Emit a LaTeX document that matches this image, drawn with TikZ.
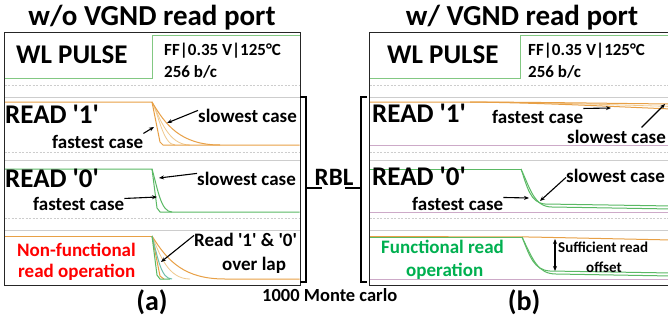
\documentclass[tikz,border=0pt]{standalone}
\usepackage{fontspec}
\setmainfont{Carlito}
\usetikzlibrary{arrows.meta}
\newcommand\sqq{\textquotesingle}
\definecolor{wlgreen}{RGB}{130,200,130}
\definecolor{rdorange}{RGB}{232,160,70}
\definecolor{rdorangel}{RGB}{240,200,140}
\definecolor{rdgreen}{RGB}{90,185,100}
\definecolor{rdteal}{RGB}{110,190,170}
\definecolor{gridgray}{RGB}{205,205,205}
\definecolor{lowpurple}{RGB}{205,170,200}
\definecolor{redtxt}{RGB}{255,0,0}
\definecolor{greentxt}{RGB}{0,176,80}
\begin{document}
\begin{tikzpicture}[x=1pt,y=-1pt,
  txt/.style={inner sep=0pt,anchor=base west,font=\bfseries\fontsize{19}{20}\selectfont},
  bigtxt/.style={inner sep=0pt,anchor=base west,font=\bfseries\fontsize{27}{28}\selectfont},
  ttl/.style={inner sep=0pt,anchor=base,font=\bfseries\fontsize{29}{30}\selectfont},
  cond/.style={inner sep=0pt,anchor=base west,font=\bfseries\fontsize{17}{18}\selectfont},
  frame/.style={draw=black!85,line width=0.9pt},
  dashgrid/.style={draw=gridgray,line width=0.8pt,dash pattern=on 2pt off 1.5pt},
  solidgrid/.style={draw=gridgray,line width=0.8pt},
  lowline/.style={draw=lowpurple,line width=0.8pt},
  wl/.style={draw=wlgreen,line width=1pt},
  orc/.style={draw=rdorange,line width=1pt},
  orl/.style={draw=rdorangel,line width=0.8pt},
  grc/.style={draw=rdgreen,line width=1pt},
  arr/.style={draw=black,line width=1.1pt,-{Stealth[length=5pt,width=4pt]}},
  darr/.style={draw=black,line width=1.1pt,{Stealth[length=5pt,width=4pt]}-{Stealth[length=5pt,width=4pt]}},
  brk/.style={draw=black,line width=1.8pt}
]
\useasboundingbox (0,0) rectangle (668,324);
\fill[white] (0,0) rectangle (668,324);

% ================= Panel (a) =================
\foreach \y in {85,152,218} \draw[dashgrid] (4.5,\y) -- (299.5,\y);
\foreach \y in {97,160,230} \draw[solidgrid] (4.5,\y) -- (299.5,\y);
\draw[wl] (4.5,78) -- (152,78) -- (152,35) -- (299.5,35);
% READ 1
\draw[orl] (152,102) .. controls (160,118) and (168,145) .. (190,145);
\draw[orl] (152,102) .. controls (158,112) and (163,145) .. (175,145);
\draw[orc] (4.5,102) -- (152,102) -- (160,142) -- (163,145) -- (299.5,145);
\draw[orc] (152,102) .. controls (165,124) and (180,145) .. (220,145);
% READ 0
\draw[grc] (4.5,169) -- (152,169) -- (157,208) -- (160,212) -- (299.5,212);
\draw[grc] (152,169) .. controls (158,190) and (161,212) .. (172,212);
% overlap
\draw[orl] (152,236) .. controls (160,255) and (168,279) .. (190,279);
\draw[orc] (4.5,236) -- (152,236);
\draw[orc] (152,236) .. controls (168,262) and (185,279) .. (225,279) -- (299.5,279);
\draw[orc] (152,236) -- (160,276) -- (164,279);
\draw[draw=rdteal,line width=1pt] (152,236) .. controls (158,258) and (161,279) .. (172,279);
\draw[grc] (152,236) -- (157,275) -- (160,279) -- (170,279);
\draw[frame] (4,32) rectangle (300,285);

\node[ttl] (ta) at (152,25) {w/o VGND read port};
\node[bigtxt] (wla) at (16,63) {WL PULSE};
\node[cond] (ffa) at (164,55) {FF|0.35 V|125°C};
\node[cond] (bca) at (164,77) {256 b/c};
\node[bigtxt] (r1a) at (5,123) {READ \sqq1\sqq};
\node[txt] (s1a) at (198,122) {slowest case};
\node[txt] (f1a) at (52,148) {fastest case};
\node[bigtxt] (r0a) at (5,187) {READ \sqq0\sqq};
\node[txt] (s0a) at (197,185) {slowest case};
\node[txt] (f0a) at (33,210) {fastest case};
\node[txt,text=redtxt] (nfa) at (17,256) {Non-functional};
\node[txt,text=redtxt] (roa) at (18,277) {read operation};
\node[txt] (ola) at (194,246) {Read \sqq1\sqq{} \& \sqq0\sqq};
\node[txt] (olb) at (222,270) {over lap};
\coordinate (s1at) at (167,123);
\coordinate (f1at) at (154,127);
\coordinate (s0at) at (159,178);
\coordinate (f0at) at (157,197);
\coordinate (olt) at (161,262);
\draw[arr] (s1a.west) ++(0,-5) -- (s1at);
\draw[arr] (f1a.east) ++(0,-8) -- (f1at);
\draw[arr] (s0a.west) ++(0,-5) -- (s0at);
\draw[arr] (f0a.east) ++(0,-5) -- (f0at);
\draw[arr] (ola.west) ++(0,-4) -- (olt);

% ================= RBL =================
\coordinate (lb1) at (306,97);
\coordinate (lb2) at (306,282);
\draw[brk] (300,97) -- (lb1) -- (lb2) -- (300,282);
\draw[brk] (306,188) -- (322,188);
\coordinate (rb1) at (361,97);
\coordinate (rb2) at (361,282);
\draw[brk] (367,97) -- (rb1) -- (rb2) -- (367,282);
\draw[brk] (361,188) -- (345,188);
\node[inner sep=0pt,anchor=base,font=\bfseries\fontsize{25}{26}\selectfont] (rbl) at (334,185) {RBL};

% ================= Panel (b) =================
\foreach \y in {85,152,218} \draw[dashgrid] (369.5,\y) -- (672,\y);
\foreach \y in {97,160,230} \draw[solidgrid] (369.5,\y) -- (672,\y);
\foreach \y in {145,212,279} \draw[lowline] (369.5,\y) -- (672,\y);
\draw[wl] (369.5,78) -- (520,78) -- (520,35) -- (672,35);
% READ 1
\draw[orl] (470,102) .. controls (550,102.5) and (620,105) .. (672,106.5);
\draw[orc] (369.5,102) -- (480,102) .. controls (560,102.5) and (620,103.5) .. (672,104);
\draw[orc] (470,102) .. controls (550,103) and (620,107) .. (672,109);
% READ 0
\draw[grc] (369.5,169) -- (521,169);
\draw[grc] (521,169) .. controls (527,186) and (530,203) .. (545,204) -- (672,206);
\draw[grc] (521,169) .. controls (530,188) and (534,207) .. (552,207) -- (672,209);
% functional
\draw[orc] (369.5,236.5) -- (530,237) -- (672,240);
\draw[grc] (369.5,237) -- (522,237);
\draw[grc] (522,237) .. controls (530,257) and (534,270) .. (550,271) -- (672,273);
\draw[grc] (522,237) .. controls (533,260) and (538,274) .. (556,274) -- (672,276);
\draw[frame] (672,32) -- (369,32) -- (369,285) -- (672,285);

\node[ttl] (tb) at (522,25) {w/ VGND read port};
\node[bigtxt] (wlb) at (387,63) {WL PULSE};
\node[cond] (ffb) at (528,55) {FF|0.35 V|125°C};
\node[cond] (bcb) at (528,77) {256 b/c};
\node[bigtxt] (r1b) at (372,122) {READ \sqq1\sqq};
\node[txt] (f1b) at (492,123) {fastest case};
\node[txt] (s1b) at (567,143) {slowest case};
\node[bigtxt] (r0b) at (372,185) {READ \sqq0\sqq};
\node[txt] (s0b) at (566,182) {slowest case};
\node[txt] (f0b) at (412,210) {fastest case};
\node[txt,text=greentxt] (fnb) at (381,253) {Functional read};
\node[txt,text=greentxt] (opb) at (406,276) {operation};
\node[inner sep=0pt,anchor=base west,font=\bfseries\fontsize{15}{16}\selectfont] (sfb) at (558,252) {Sufficient read};
\node[inner sep=0pt,anchor=base west,font=\bfseries\fontsize{15}{16}\selectfont] (ofb) at (586,272) {offset};
\coordinate (f1bt) at (611,108);
\coordinate (s1bt) at (665,104);
\coordinate (s0bt) at (540,201);
\coordinate (f0bt) at (529,198);
\coordinate (dt) at (555,239);
\coordinate (db) at (555,271);
\draw[arr] (f1b.east) ++(0,-8) -- (f1bt);
\draw[arr] (s1b.north) ++(25,-2) -- (s1bt);
\draw[arr] (s0b.west) ++(0,2) -- (s0bt);
\draw[arr] (f0b.east) ++(0,-6) -- (f0bt);
\draw[darr] (dt) -- (db);

% ================= captions =================
\node[inner sep=0pt,anchor=base,font=\bfseries\fontsize{28}{29}\selectfont] (capa) at (152,310) {(a)};
\node[inner sep=0pt,anchor=base,font=\bfseries\fontsize{28}{29}\selectfont] (capb) at (524,310) {(b)};
\node[inner sep=0pt,anchor=base west,font=\bfseries\fontsize{18.5}{19}\selectfont] (mc) at (262,301) {1000 Monte carlo};
\end{tikzpicture}
\end{document}
